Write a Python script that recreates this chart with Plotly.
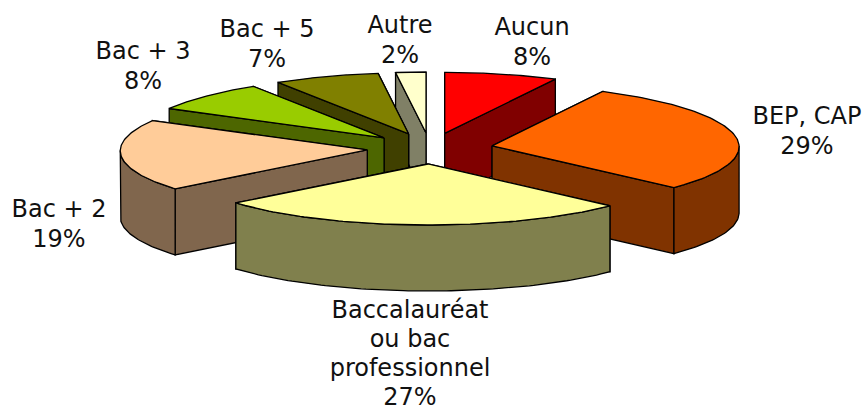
import numpy as np
import plotly.graph_objects as go

categories = ["Aucun", "BEP, CAP", "Baccalauréat<br>ou bac<br>professionnel", "Bac + 2", "Bac + 3", "Bac + 5", "Autre"]
values = [7.5, 29.5, 27, 19, 8, 7, 2]
percent_labels = ["8%", "29%", "27%", "19%", "8%", "7%", "2%"]
top_colors = ["#FF0000", "#FF6600", "#FFFF99", "#FFCC99", "#99CC00", "#808000", "#FFFFCC"]
side_colors = ["#800000", "#803300", "#80804D", "#80664D", "#4D6600", "#404000", "#808066"]
label_x = [532, 807, 410, 59, 143, 267, 400]
label_y = [28.5, 118, 312, 211, 53, 31, 26.5]
line_gaps = [30, 30, 29, 30, 30, 30, 30]
draw_order = [6, 5, 4, 0, 1, 3, 2]

CX, CY = 430, 148.5        # pie centre on the page
EX, EY = 63, 15.5          # explosion distance
RX, RY = 247, 61           # ellipse radii
PERSP = 0.015              # front of the pie looks slightly wider
DEPTH = 66
FONT = "DejaVu Sans"
FONT_SIZE = 24

fracs = np.array(values) / sum(values)
edges = np.concatenate([[0], np.cumsum(fracs)]) * 2 * np.pi
fig = go.Figure()


def poly(xs, ys, color):
    fig.add_trace(go.Scatter(
        x=np.append(xs, xs[0]), y=np.append(ys, ys[0]), mode="lines", fill="toself",
        fillcolor=color, line=dict(color="black", width=1.3),
        hoverinfo="skip", showlegend=False))


def rim(ax, ay, a):
    r = RX * (1 - PERSP * np.cos(a))
    return ax + r * np.sin(a), ay - RY * np.cos(a)


for i in draw_order:
    a0, a1 = edges[i], edges[i + 1]
    mid = (a0 + a1) / 2
    ax, ay = CX + EX * np.sin(mid), CY - EY * np.cos(mid)
    t = np.linspace(a0, a1, 90)
    ex, ey = rim(ax, ay, t)
    # radial side faces
    for a in sorted([a0, a1], key=lambda v: -np.cos(v)):
        px, py = rim(ax, ay, a)
        poly(np.array([ax, px, px, ax]), np.array([ay, py, py + DEPTH, ay + DEPTH]), side_colors[i])
    # outer rim, front-facing part only
    front = (t >= np.pi / 2) & (t <= 3 * np.pi / 2)
    if front.any():
        fx, fy = ex[front], ey[front]
        poly(np.concatenate([fx, fx[::-1]]), np.concatenate([fy, fy[::-1] + DEPTH]), side_colors[i])
    # top face
    poly(np.concatenate([[ax], ex]), np.concatenate([[ay], ey]), top_colors[i])

for cat, pct, lx, ly, gap in zip(categories, percent_labels, label_x, label_y, line_gaps):
    lines = cat.split("<br>") + [pct]
    for k, line in enumerate(lines):
        fig.add_trace(go.Scatter(
            x=[lx], y=[ly + k * gap], mode="text", text=[line], textposition="middle center",
            textfont=dict(family=FONT, size=FONT_SIZE, color="#111111"),
            hoverinfo="skip", showlegend=False, cliponaxis=False))

fig.update_layout(
    width=866, height=411, margin=dict(l=0, r=0, t=0, b=0),
    paper_bgcolor="white", plot_bgcolor="white",
    xaxis=dict(range=[0, 866], visible=False, fixedrange=True),
    yaxis=dict(range=[411, 0], visible=False, fixedrange=True),
)
fig.write_html("out.html", config={"displayModeBar": False},
               post_script="document.body.style.margin='0';document.body.style.overflow='hidden';")
